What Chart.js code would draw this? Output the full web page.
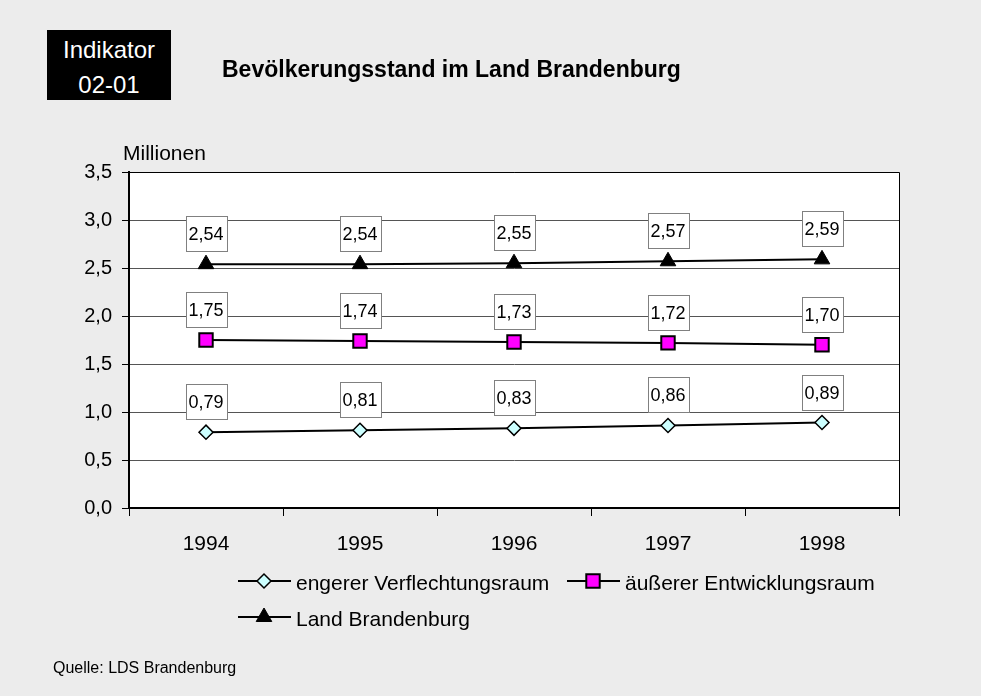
<!DOCTYPE html>
<html lang="de">
<head>
<meta charset="utf-8">
<title>Bevölkerungsstand im Land Brandenburg</title>
<script src="https://cdn.jsdelivr.net/npm/chart.js@4.4.1/dist/chart.umd.min.js"></script>
<style>
  html, body { margin: 0; padding: 0; background: #ececec; }
  body { width: 981px; height: 696px; position: relative; overflow: hidden;
         font-family: "Liberation Sans", Arial, sans-serif; color: #000; }
  #badge { position: absolute; left: 47px; top: 30px; width: 124px; height: 70px;
           background: #000; color: #fff; font-size: 24px; line-height: 35px;
           text-align: center; padding-top: 2px; box-sizing: border-box; }
  #title { position: absolute; left: 222px; top: 58px; font-size: 23px; line-height: 23px; font-weight: bold; white-space: nowrap; }
  #unit { position: absolute; left: 123px; top: 142px; font-size: 21px; line-height: 21px; }
  #source { position: absolute; left: 53px; top: 660px; font-size: 16px; line-height: 16px; }
  #wrap { position: absolute; left: 0; top: 0; width: 981px; height: 696px; }
</style>
</head>
<body>
<div id="wrap"><canvas id="chart" width="981" height="696"></canvas></div>
<div id="badge">Indikator<br>02-01</div>
<div id="title">Bevölkerungsstand im Land Brandenburg</div>
<div id="unit">Millionen</div>
<div id="source">Quelle: LDS Brandenburg</div>
<script>
// ---------- Data ----------
const years = ["1994", "1995", "1996", "1997", "1998"];
const engererVerflechtungsraum = [0.79, 0.81, 0.83, 0.86, 0.89];
const aeussererEntwicklungsraum = [1.75, 1.74, 1.73, 1.72, 1.70];
const landBrandenburg = [2.54, 2.54, 2.55, 2.57, 2.59];
const seriesNames = ["engerer Verflechtungsraum", "äußerer Entwicklungsraum", "Land Brandenburg"];

const FONT = '"Liberation Sans", Arial, sans-serif';
const fmtDe = (v) => v.toFixed(2).replace(".", ",");

// ---------- Plugins ----------
// white plot area + top/right frame
const plotFrame = {
  id: "plotFrame",
  beforeDraw(chart) {
    const { ctx, chartArea: a } = chart;
    ctx.save();
    ctx.fillStyle = "#fff";
    ctx.fillRect(a.left, a.top, a.right - a.left, a.bottom - a.top);
    ctx.restore();
  },
  afterDraw(chart) {
    const { ctx, chartArea: a } = chart;
    ctx.save();
    ctx.strokeStyle = "#000";
    ctx.lineWidth = 1;
    ctx.beginPath();
    ctx.moveTo(a.left, a.top + 0.5);
    ctx.lineTo(a.right + 0.5, a.top + 0.5);
    ctx.lineTo(a.right + 0.5, a.bottom);
    ctx.stroke();
    ctx.restore();
  }
};

// boxed value labels above each point
const valueBoxes = {
  id: "valueBoxes",
  afterDatasetsDraw(chart) {
    const ctx = chart.ctx;
    ctx.save();
    ctx.font = "18px " + FONT;
    ctx.textAlign = "center";
    ctx.textBaseline = "middle";
    chart.data.datasets.forEach((ds, di) => {
      chart.getDatasetMeta(di).data.forEach((pt, i) => {
        const w = 41, h = 35;
        const x = Math.round(pt.x - w / 2) + 0.5;
        const y = Math.round(pt.y - 13 - h) + 0.5;
        ctx.fillStyle = "#fff";
        ctx.fillRect(x, y, w, h);
        ctx.strokeStyle = "#808080";
        ctx.lineWidth = 1;
        ctx.strokeRect(x, y, w, h);
        ctx.fillStyle = "#000";
        ctx.fillText(fmtDe(ds.data[i]), pt.x, y + h / 2 + 1);
      });
    });
    ctx.restore();
  }
};

// legend drawn as line + marker symbols
const lineLegend = {
  id: "lineLegend",
  afterDraw(chart) {
    const ctx = chart.ctx;
    const spots = [
      { x: 238, y: 581, tx: 296 },
      { x: 567, y: 581, tx: 625 },
      { x: 238, y: 617, tx: 296 }
    ];
    ctx.save();
    chart.data.datasets.forEach((ds, di) => {
      const s = spots[di];
      ctx.strokeStyle = "#000";
      ctx.lineWidth = 2;
      ctx.beginPath();
      ctx.moveTo(s.x, s.y);
      ctx.lineTo(s.x + 53, s.y);
      ctx.stroke();
      ctx.fillStyle = ds.pointBackgroundColor;
      ctx.strokeStyle = ds.pointBorderColor;
      ctx.lineWidth = ds.pointBorderWidth;
      Chart.helpers.drawPoint(ctx, {
        pointStyle: ds.pointStyle,
        radius: ds.pointRadius,
        borderWidth: ds.pointBorderWidth,
        rotation: 0
      }, s.x + 26, s.y);
      ctx.fillStyle = "#000";
      ctx.font = "21px " + FONT;
      ctx.textAlign = "left";
      ctx.textBaseline = "middle";
      ctx.fillText(ds.label, s.tx, s.y + 3);
    });
    ctx.restore();
  }
};

// ---------- Chart ----------
new Chart(document.getElementById("chart"), {
  type: "line",
  data: {
    labels: years,
    datasets: [
      {
        label: seriesNames[0], data: engererVerflechtungsraum,
        borderColor: "#000", borderWidth: 2,
        pointStyle: "rectRot", pointRadius: 7, pointBorderWidth: 1.5,
        pointBackgroundColor: "#ccffff", pointBorderColor: "#000"
      },
      {
        label: seriesNames[1], data: aeussererEntwicklungsraum,
        borderColor: "#000", borderWidth: 2,
        pointStyle: "rect", pointRadius: 9.5, pointBorderWidth: 2,
        pointBackgroundColor: "#ff00ff", pointBorderColor: "#000"
      },
      {
        label: seriesNames[2], data: landBrandenburg,
        borderColor: "#000", borderWidth: 2,
        pointStyle: "triangle", pointRadius: 9, pointBorderWidth: 1,
        pointBackgroundColor: "#000", pointBorderColor: "#000"
      }
    ]
  },
  options: {
    responsive: false,
    animation: false,
    devicePixelRatio: 1,
    layout: { padding: { top: 172, right: 82, bottom: 0, left: 0 } },
    plugins: { legend: { display: false }, tooltip: { enabled: false } },
    scales: {
      x: {
        offset: true,
        grid: { offset: true, drawOnChartArea: false, color: "#000", tickLength: 8 },
        border: { color: "#000", width: 2 },
        ticks: { color: "#000", font: { family: FONT, size: 21 }, padding: 16, maxRotation: 0 },
        afterFit(scale) { scale.height = 188; }
      },
      y: {
        min: 0, max: 3.5,
        grid: { color: "#555", lineWidth: 1, tickLength: 7, tickColor: "#000" },
        border: { color: "#000", width: 2 },
        ticks: {
          stepSize: 0.5, color: "#000", padding: 10,
          font: { family: FONT, size: 20 },
          callback: (v) => v.toFixed(1).replace(".", ",")
        },
        afterFit(scale) { scale.width = 129; }
      }
    }
  },
  plugins: [plotFrame, valueBoxes, lineLegend]
});
</script>
</body>
</html>
